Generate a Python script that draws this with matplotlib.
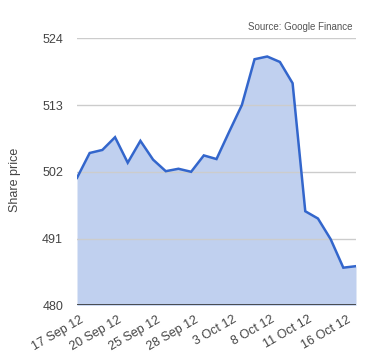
import matplotlib
matplotlib.use("Agg")
import matplotlib.pyplot as plt
import matplotlib.transforms as mtransforms

dates = ["17 Sep 12", "18 Sep 12", "19 Sep 12", "20 Sep 12", "21 Sep 12", "24 Sep 12",
         "25 Sep 12", "26 Sep 12", "27 Sep 12", "28 Sep 12", "1 Oct 12", "2 Oct 12",
         "3 Oct 12", "4 Oct 12", "5 Oct 12", "8 Oct 12", "9 Oct 12", "10 Oct 12",
         "11 Oct 12", "12 Oct 12", "15 Oct 12", "16 Oct 12", "17 Oct 12"]
prices = [501.0, 505.1, 505.6, 507.7, 503.5, 507.1, 504.0, 502.1, 502.5, 502.0,
          504.7, 504.1, 508.6, 513.0, 520.55, 521.0, 520.1, 516.6, 495.5, 494.3,
          490.9, 486.2, 486.45]
yticks = [480, 491, 502, 513, 524]
tick_idx = [0, 3, 6, 9, 12, 15, 18, 21]

plt.rcParams['font.family'] = ['Liberation Sans', 'DejaVu Sans']

fig = plt.figure(figsize=(3.8, 3.6), dpi=100)
ax = fig.add_axes([77/380, 1 - 305.3/360, (356 - 77)/380, (305.3 - 38.3)/360])

x = list(range(len(prices)))
ax.fill_between(x, 480, prices, color='#c0d0ef', lw=0, zorder=1)
ax.plot(x, prices, color='#3366cc', lw=1.8, zorder=3, solid_joinstyle='miter')

ax.set_xlim(0, len(prices) - 1)
ax.set_ylim(480, 524)
ax.set_yticks(yticks)
ax.set_yticklabels([str(v) for v in yticks])
for v in yticks[1:]:
    ax.axhline(v, color='#cccccc', lw=1, zorder=2)
ax.axhline(480, color='#333333', lw=1.2, zorder=4)

ax.set_xticks(tick_idx)
ax.set_xticklabels([dates[i] for i in tick_idx], rotation=30, ha='right',
                   rotation_mode='anchor')
ax.tick_params(axis='both', length=0, labelsize=9, colors='#444444')
ax.tick_params(axis='y', pad=10)
ax.tick_params(axis='x', pad=6)
offset = mtransforms.ScaledTranslation(3/100, 0, fig.dpi_scale_trans)
for lbl in ax.get_xticklabels():
    lbl.set_transform(lbl.get_transform() + offset)
for s in ax.spines.values():
    s.set_visible(False)

ax.set_ylabel("Share price", fontsize=9, color='#444444')
ax.yaxis.set_label_coords(-(77 - 21) / 279, (305.3 - 180) / 267)
fig.text(352/380, 1 - 27/360, "Source: Google Finance", fontsize=7, color='#555555',
         ha='right', va='center')

fig.savefig("out.png", dpi=100)
